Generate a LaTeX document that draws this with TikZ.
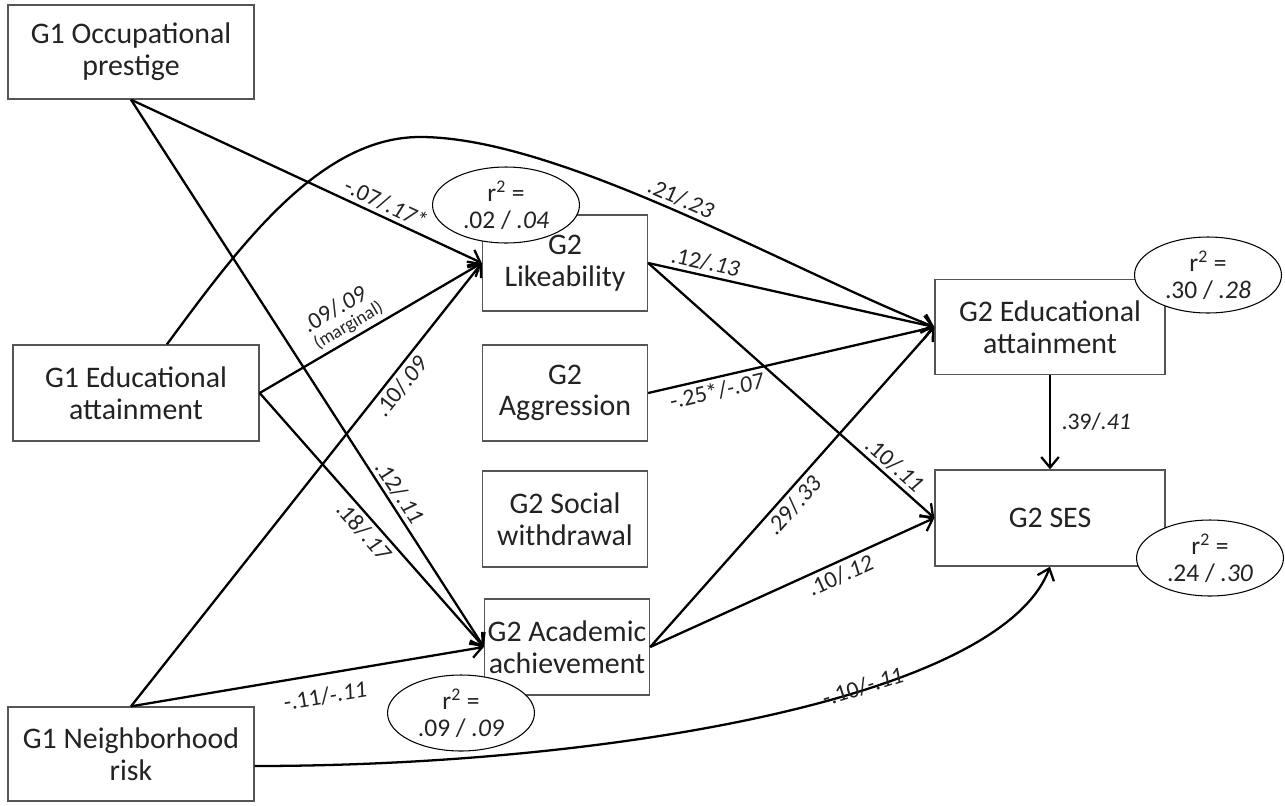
\documentclass[tikz,border=0pt]{standalone}
\usepackage{fontspec}
\setmainfont{Carlito}
\usetikzlibrary{arrows.meta, shapes.geometric, calc}
\definecolor{boxline}{RGB}{85,85,85}
\definecolor{inktext}{RGB}{35,35,35}

\begin{document}
\begin{tikzpicture}[x=0.02cm, y=-0.02cm,
    box/.style={draw=boxline, line width=0.8pt, align=center, text=inktext, inner sep=0pt, font=\fontsize{17}{18}\selectfont},
    rsq/.style={ellipse, draw=black, line width=0.6pt, fill=white, align=center, inner sep=0pt, minimum width=2.94cm, minimum height=1.52cm, text=inktext, font=\fontsize{14.5}{15.5}\selectfont},
    link/.style={line width=1.3pt, -{Straight Barb[length=6pt,width=10pt]}},
    lbl/.style={sloped, inner sep=2pt, text=inktext, font=\fontsize{13.5}{14}\selectfont}]
    \fill[white] (0,0) rectangle (1285,805);
    \useasboundingbox (0,0) rectangle (1285,805);

    % G1 variables
    \node[box, minimum width=4.92cm, minimum height=1.88cm] (g1occ) at (131,52) {G1 Occupational\\prestige};
    \node[box, minimum width=4.92cm, minimum height=1.92cm] (g1edu) at (136,393) {G1 Educational\\attainment};
    \node[box, minimum width=4.92cm, minimum height=1.88cm] (g1nbh) at (131,754) {G1 Neighborhood\\risk};

    % G2 mediators
    \node[box, minimum width=3.3cm, minimum height=1.92cm] (g2like) at (565,263) {G2\\Likeability};
    \node[box, minimum width=3.3cm, minimum height=1.92cm] (g2aggr) at (565,393) {G2\\Aggression};
    \node[box, minimum width=3.3cm, minimum height=1.92cm] (g2soc) at (565,519) {G2 Social\\withdrawal};
    \node[box, minimum width=3.3cm, minimum height=1.92cm] (g2acad) at (567,647) {G2 Academic\\achievement};

    % G2 outcomes
    \node[box, minimum width=4.6cm, minimum height=1.9cm] (g2edu) at (1050,327) {G2 Educational\\attainment};
    \node[box, minimum width=4.6cm, minimum height=1.92cm] (g2ses) at (1050,518) {G2 SES};

    % paths from G1
    \draw[link] (g1occ.south) -- node[lbl, pos=0.71, above] {-.07/\textit{.17*}} (g2like.west);
    \draw[link] (g1occ.south) -- node[lbl, pos=0.73, above] {.12/\textit{.11}} (g2acad.west);
    \draw[link] (g1edu.east) -- node[lbl, pos=0.43, above, align=left] {.09/\textit{.09}\\[-3pt]{\fontsize{10.5}{11}\selectfont (marginal)}} (g2like.west);
    \draw[link] (g1edu.east) -- node[lbl, pos=0.51, below] {.18/\textit{.17}} (g2acad.west);
    \draw[link] (g1nbh.north) -- node[lbl, pos=0.74, below] {.10/\textit{.09}} (g2like.west);
    \draw[link] (g1nbh.north) -- node[lbl, pos=0.54, below=5pt] {-.11/\textit{-.11}} (g2acad.west);

    % long curved paths
    \coordinate (crest) at (420,137);
    \draw[link] ([xshift=0.62cm]g1edu.north) .. controls (240,245) and (320,137) .. (crest)
        .. controls (560,137) and (790,270) .. node[lbl, pos=0.5, above] {.21/\textit{.23}} (g2edu.west);
    \draw[link] ([yshift=-0.24cm]g1nbh.east) .. controls (600,766) and (1000,700) .. node[lbl, pos=0.62, above=-6pt] {-.10/\textit{-.11}} (g2ses.south);

    % paths from G2 mediators
    \draw[link] (g2like.east) -- node[lbl, pos=0.19, above] {.12/\textit{.13}} (g2edu.west);
    \draw[link] (g2like.east) -- node[lbl, pos=0.83, above] {.10/\textit{.11}} (g2ses.west);
    \draw[link] (g2aggr.east) -- node[lbl, pos=0.23, below] {-.25*/\textit{-.07}} (g2edu.west);
    \draw[link] (g2acad.east) -- node[lbl, pos=0.47, below] {.29/\textit{.33}} (g2edu.west);
    \draw[link] (g2acad.east) -- node[lbl, pos=0.65, below] {.10/\textit{.12}} (g2ses.west);
    \draw[link] (g2edu.south) -- node[lbl, sloped=false, right, xshift=4pt] {.39/\textit{.41}} (g2ses.north);

    % explained variance
    \node[rsq] (rlike) at (506,205) {r\textsuperscript{2} =\\.02 / \textit{.04}};
    \node[rsq] (redu) at (1208,275) {r\textsuperscript{2} =\\.30 / \textit{.28}};
    \node[rsq] (rses) at (1210,558) {r\textsuperscript{2} =\\.24 / \textit{.30}};
    \node[rsq] (racad) at (461,713) {r\textsuperscript{2} =\\.09 / \textit{.09}};
\end{tikzpicture}
\end{document}
